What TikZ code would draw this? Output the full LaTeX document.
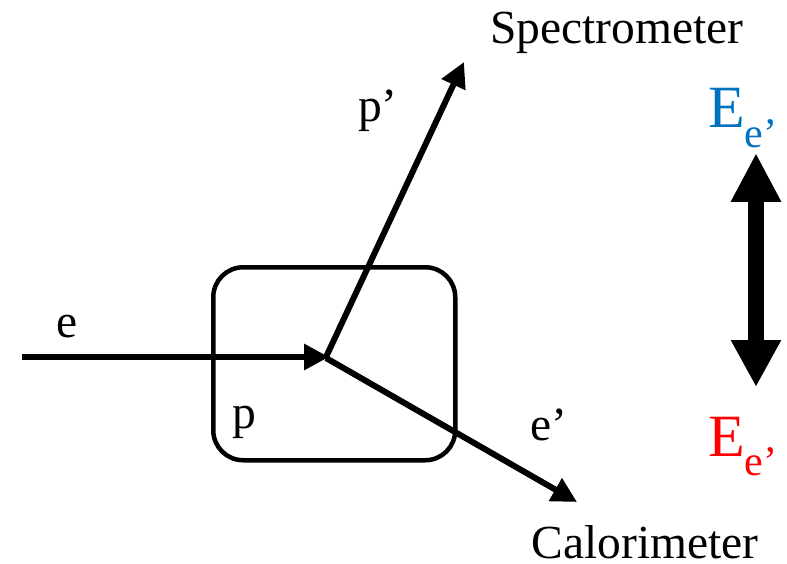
\documentclass[tikz,border=0pt]{standalone}
\usepackage{fontspec}
\setmainfont{Liberation Serif}
\usetikzlibrary{arrows.meta}
\definecolor{eblue}{RGB}{0,112,192}
\definecolor{ered}{RGB}{255,0,0}
\begin{document}
\begin{tikzpicture}[x=1pt,y=-1pt,
  lbl/.style={inner sep=0pt,font=\fontsize{47.5}{52}\selectfont},
  big/.style={inner sep=0pt,font=\fontsize{60}{64}\selectfont},
  ray/.style={line width=6pt,-{Triangle[length=25pt,width=25pt]}},
  box/.style={draw,line width=4.5pt,rounded corners=30pt}]
\useasboundingbox (0,0) rectangle (787,564);
\node[box,minimum width=242pt,minimum height=193pt,anchor=north west] (target) at (211,265) {};
\coordinate (start) at (22,357);
\coordinate (vtx) at (329,357);
\coordinate (pend) at (464,62);
\coordinate (eend) at (577,502);
\draw[ray] (start) -- (vtx);
\draw[ray] (326,357) -- (pend);
\draw[ray] (326,358) -- (eend);
\node[lbl,anchor=base] (le) at (67,337) {e};
\node[lbl,anchor=base] (lp) at (244,428) {p};
\node[lbl,anchor=base] (lpp) at (378,122) {p’};
\node[lbl,anchor=base] (lep) at (549,440) {e’};
\node[lbl,anchor=base] (spec) at (617,44) {Spectrometer};
\node[lbl,anchor=base] (cal) at (645,558) {Calorimeter};
\node[big,anchor=base,text=eblue] (eb) at (743,128) {E\textsubscript{e’}};
\node[big,anchor=base,text=ered] (er) at (743,456) {E\textsubscript{e’}};
\coordinate (dtop) at (756,153);
\coordinate (dbot) at (756,387);
\draw[line width=16pt,{Triangle[length=49pt,width=47pt]}-{Triangle[length=47pt,width=47pt]}] (dtop) -- (dbot);
\end{tikzpicture}
\end{document}
